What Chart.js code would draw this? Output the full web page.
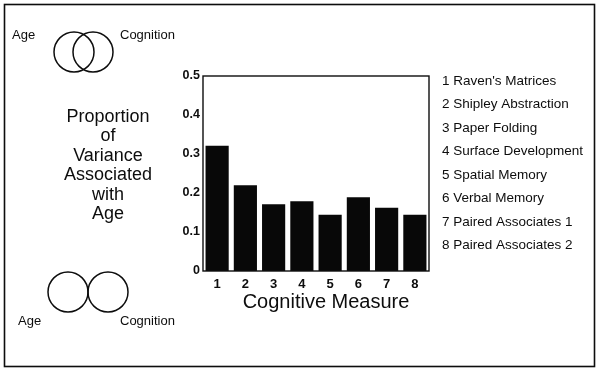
<!DOCTYPE html>
<html>
<head>
<meta charset="utf-8">
<script src="https://cdn.jsdelivr.net/npm/chart.js@4.4.1/dist/chart.umd.min.js"></script>
<style>
  body { margin: 0; background: #fff; }
  #wrap { width: 600px; height: 370px; }
</style>
</head>
<body>
<div id="wrap"><canvas id="myChart" width="600" height="370"></canvas></div>
<script>
// data
const categories = ['1', '2', '3', '4', '5', '6', '7', '8'];
const measureNames = [
    "Raven's Matrices",
    'Shipley Abstraction',
    'Paper Folding',
    'Surface Development',
    'Spatial Memory',
    'Verbal Memory',
    'Paired Associates 1',
    'Paired Associates 2'
];
const proportions = [0.321, 0.220, 0.171, 0.179, 0.144, 0.189, 0.162, 0.144];
const sideTitle = ['Proportion', 'of', 'Variance', 'Associated', 'with', 'Age'];
const xTitle = 'Cognitive Measure';

const FONT = '"Liberation Sans", Arial, Helvetica, sans-serif';
const INK = '#0d0d0d';

function venn(ctx, cx1, cx2, cy, r) {
    ctx.beginPath();
    ctx.arc(cx1, cy, r, 0, Math.PI * 2);
    ctx.stroke();
    ctx.beginPath();
    ctx.arc(cx2, cy, r, 0, Math.PI * 2);
    ctx.stroke();
}

// frame, plot box, side texts and the venn pictures
const decorPlugin = {
    id: 'decor',
    afterDraw(chart) {
        const ctx = chart.ctx;
        const area = chart.chartArea;
        ctx.save();
        ctx.strokeStyle = INK;
        ctx.fillStyle = INK;

        // outer frame
        ctx.lineWidth = 1.6;
        ctx.strokeRect(4.5, 4.5, 590, 362);

        // plot box
        ctx.lineWidth = 1.4;
        ctx.strokeRect(area.left, area.top, area.right - area.left, area.bottom - area.top);

        // venn diagrams
        ctx.lineWidth = 1.5;
        venn(ctx, 74, 93, 52, 20);
        venn(ctx, 68, 108, 292, 20);

        ctx.textBaseline = 'middle';
        ctx.textAlign = 'left';
        ctx.font = '13px ' + FONT;
        ctx.fillText('Age', 12, 35);
        ctx.fillText('Cognition', 120, 35);
        ctx.fillText('Age', 18, 321);
        ctx.fillText('Cognition', 120, 321);

        // left title
        ctx.textAlign = 'center';
        ctx.font = '18px ' + FONT;
        sideTitle.forEach((line, i) => {
            ctx.fillText(line, 108, 117 + i * 19.5);
        });

        // x axis title
        ctx.font = '20px ' + FONT;
        ctx.fillText(xTitle, (area.left + area.right) / 2 + 10, 302);

        // measure list on the right
        ctx.textAlign = 'left';
        ctx.font = '13.5px ' + FONT;
        measureNames.forEach((name, i) => {
            ctx.fillText(categories[i] + ' ' + name, 442, 81 + i * 23.47);
        });
        ctx.restore();
    }
};

const ctx = document.getElementById('myChart').getContext('2d');
const chart = new Chart(ctx, {
    type: 'bar',
    data: {
        labels: categories,
        datasets: [{
            label: 'Proportion of Variance Associated with Age',
            data: proportions,
            backgroundColor: '#080808',
            borderWidth: 0,
            barPercentage: 0.82,
            categoryPercentage: 1.0
        }]
    },
    options: {
        responsive: false,
        animation: false,
        layout: {
            padding: { left: 173, right: 171, top: 76, bottom: 69 }
        },
        plugins: {
            legend: { display: false },
            tooltip: { enabled: false }
        },
        scales: {
            x: {
                grid: { display: false, drawTicks: false },
                border: { display: false },
                ticks: {
                    color: INK,
                    padding: 6,
                    font: { family: FONT, size: 13, weight: 'bold' }
                },
                afterFit(scale) { scale.height = 30; }
            },
            y: {
                min: 0,
                max: 0.5,
                grid: { display: false, drawTicks: false },
                border: { display: false },
                ticks: {
                    stepSize: 0.1,
                    color: INK,
                    padding: 3,
                    font: { family: FONT, size: 12.5, weight: 'bold' },
                    callback: (v) => (v === 0 ? '0' : v.toFixed(1))
                },
                afterFit(scale) { scale.width = 30; }
            }
        }
    },
    plugins: [decorPlugin]
});
</script>
</body>
</html>
